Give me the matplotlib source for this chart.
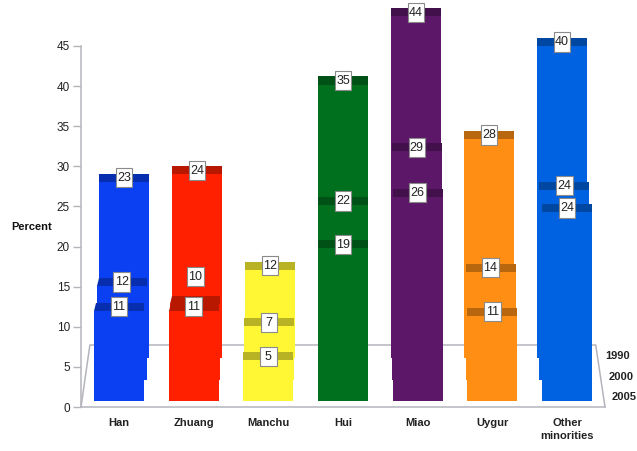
import matplotlib
matplotlib.use('Agg')
import matplotlib.pyplot as plt

plt.rcParams['font.family'] = ['Liberation Sans', 'DejaVu Sans']

groups = ['Han', 'Zhuang', 'Manchu', 'Hui', 'Miao', 'Uygur', 'Other\nminorities']
colors = ['#0a40f2', '#ff2000', '#fff733', '#00701e', '#5c1768', '#ff8f14', '#0062e0']
yticks = [0, 5, 10, 15, 20, 25, 30, 35, 40, 45]

# printed numbers
labels_1990 = [23, 24, 12, 35, 44, 28, 40]
labels_2000 = [12, 10, 7, 22, 29, 14, 24]
labels_2005 = [11, 11, 5, 19, 26, 11, 24]

# drawn bar heights (not quite the printed numbers)
heights_1990 = [23.0, 23.9, 12.0, 35.1, 43.6, 28.3, 39.9]
heights_2000 = [12.7, 10.5, 7.7, 22.8, 29.5, 14.5, 24.7]
heights_2005 = [12.2, 12.2, 6.0, 20.0, 26.4, 11.6, 24.5]

# depth rows, back to front: name, heights, labels, floor level, sideways lean
rows = [
    ('1990', heights_1990, labels_1990, 6.1, 0.022),
    ('2000', heights_2000, labels_2000, 3.37, 0.012),
    ('2005', heights_2005, labels_2005, 0.8, 0.0),
]
# the "10" box for Zhuang sits higher so it clears the "11"
label_lift = {('2000', 1): 2.9}

bar_w = 0.67
cap_h = 1.0
box_w = 0.22
box_h = 2.4


def darker(col, f=0.72):
    r, g, b = matplotlib.colors.to_rgb(col)
    return (r * f, g * f, b * f)


fig = plt.figure(figsize=(6.37, 4.51), dpi=100)
ax = fig.add_axes([81 / 637, 1 - 407 / 451, 524 / 637, 361 / 451])
ax.set_xlim(-0.509, 6.509)
ax.set_ylim(0, 45)

# floor
floor_col = '#b4b5bc'
ax.plot([-0.509, -0.39, 6.385, 6.509], [0, 7.73, 7.73, 0], color=floor_col, lw=1.1,
        clip_on=False, zorder=1)

for name, heights, labels, floor, lean in rows:
    for i, h in enumerate(heights):
        x = i + (3 - i) * lean
        top = floor + h
        ax.bar(x, top - cap_h - floor, width=bar_w, bottom=floor, color=colors[i],
               clip_on=False, zorder=2)
        # darker top band, small corner cut on the left groups in the near rows
        left = x - bar_w / 2
        right = x + bar_w / 2
        cut = 0.025 if (i < 2 and name != '1990') else 0
        ax.fill([left, right, right, left + cut],
                [top - cap_h, top - cap_h, top, top],
                color=darker(colors[i]), lw=0, clip_on=False, zorder=2)
        y = top - cap_h / 2 + label_lift.get((name, i), 0)
        ax.bar(x, box_h, width=box_w, bottom=y - box_h / 2, color='white',
               edgecolor='#8a8a8a', linewidth=0.8, clip_on=False, zorder=10)
        ax.text(x, y - 0.05, str(labels[i]), ha='center', va='center', fontsize=9,
                color='#222222', zorder=11, clip_on=False)

for s in ['top', 'right']:
    ax.spines[s].set_visible(False)
for s in ['left', 'bottom']:
    ax.spines[s].set_color(floor_col)
    ax.spines[s].set_linewidth(1.1)

ax.set_yticks(yticks)
ax.tick_params(axis='y', length=6, width=1, color=floor_col, labelsize=8.5,
               labelcolor='#222222', pad=2)
ax.set_xticks(range(len(groups)))
ax.set_xticklabels(groups, fontsize=8, fontweight='bold', color='#222222', linespacing=1.4, va='top')
ax.tick_params(axis='x', length=0, pad=8)

ax.text(-1.165, 22.4, 'Percent', ha='center', va='center', fontsize=8, fontweight='bold',
        color='#111111', clip_on=False)

# depth names at the right of the floor
for (name, heights, labels, floor, lean), xp, yp in zip(rows, [6.51, 6.56, 6.6], [6.4, 3.8, 1.25]):
    ax.text(xp, yp, name, ha='left', va='center', fontsize=8, fontweight='bold',
            color='#222222', clip_on=False)

fig.savefig('out.png', dpi=100)
